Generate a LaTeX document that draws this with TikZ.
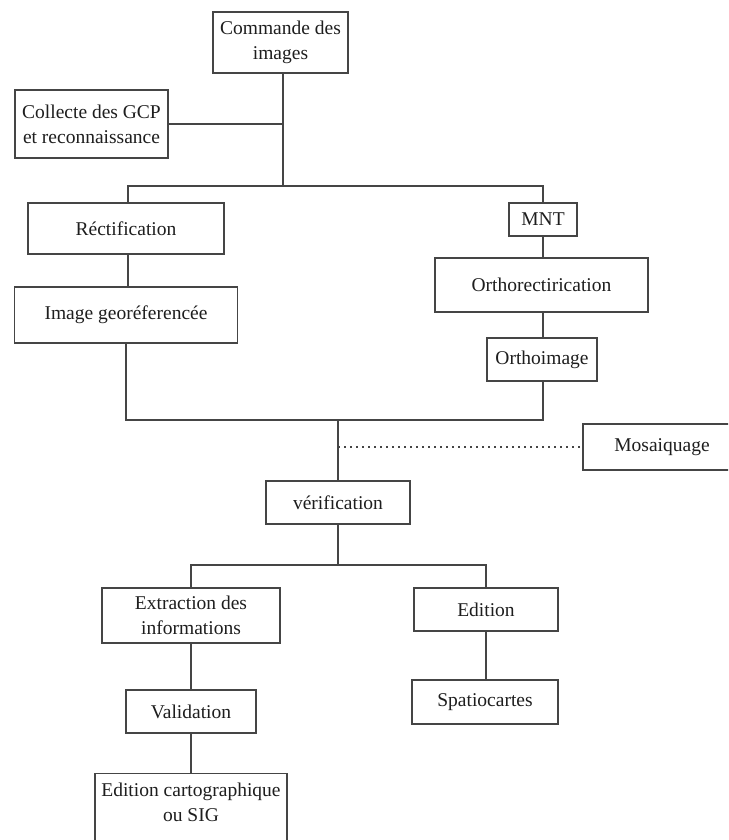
\documentclass[tikz,border=0pt]{standalone}
\usepackage{fontspec}
\setmainfont{Liberation Serif}
\begin{document}
\begin{tikzpicture}[x=1pt,y=-1pt,
  every node/.style={inner sep=0pt},
  box/.style={draw=boxgray, line width=1.4pt, fill=white, align=center,
    text=textgray, font=\fontsize{19.5}{25}\selectfont},
  link/.style={draw=boxgray, line width=1.4pt},
  dotlink/.style={draw=boxgray, line width=1.4pt, dash pattern=on 1.5pt off 4.5pt}]
\definecolor{boxgray}{HTML}{454545}
\definecolor{textgray}{HTML}{1E1E1E}
\useasboundingbox (0,0) rectangle (728,840);
\clip (0,0) rectangle (728,840);

% boxes
\node[box, minimum width=135pt, minimum height=61pt] (cmd) at (280.5,42.5) {Commande des\\images};
\node[box, minimum width=153pt, minimum height=68pt] (gcp) at (91.5,124) {Collecte des GCP\\et reconnaissance};
\node[box, minimum width=196pt, minimum height=51pt] (rect) at (126,228.5) {Réctification};
\node[box, minimum width=223pt, minimum height=56pt] (geo) at (126,315) {Image georéferencée};
\node[box, minimum width=68pt, minimum height=33pt] (mnt) at (543,219.5) {MNT};
\node[box, minimum width=213pt, minimum height=54pt] (ortho) at (541.5,285) {Orthorectirication};
\node[box, minimum width=110pt, minimum height=43pt] (oimg) at (542,359.5) {Orthoimage};
\node[box, minimum width=158pt, minimum height=46pt] (mos) at (662,447) {Mosaiquage};
\node[box, minimum width=144pt, minimum height=43pt] (verif) at (338,502.5) {vérification};
\node[box, minimum width=178pt, minimum height=55pt] (extr) at (191,615.5) {Extraction des\\informations};
\node[box, minimum width=130pt, minimum height=43pt] (valid) at (191,711.5) {Validation};
\node[box, minimum width=192pt, minimum height=87pt, anchor=north] (carto) at (191,773) {};
\node[box, draw=none, fill=none, anchor=north] (cartotext) at (191,782) {Edition cartographique\\ou SIG};
\node[box, minimum width=144pt, minimum height=43pt] (edit) at (486,609.5) {Edition};
\node[box, minimum width=146pt, minimum height=44pt] (spatio) at (485,702) {Spatiocartes};

% junction points
\coordinate (j1) at (283,186);
\coordinate (j2) at (338,420);
\coordinate (jm) at (338,447);
\coordinate (j3) at (338,565);

% connectors
\draw[link] (cmd.south -| j1) -- (j1);
\draw[link] (gcp.east) -- (gcp.east -| j1);
\draw[link] (rect.north -| 128,0) |- (j1) -| (mnt.north);
\draw[link] (rect.south -| 128,0) -- (geo.north -| 128,0);
\draw[link] (mnt.south) -- (ortho.north -| mnt.south);
\draw[link] (ortho.south -| mnt.south) -- (oimg.north -| mnt.south);
\draw[link] (geo.south) |- (j2) -| (oimg.south -| mnt.south);
\draw[link] (j2) -- (verif.north);
\draw[dotlink] (jm) -- (mos.west);
\draw[link] (verif.south) -- (j3);
\draw[link] (extr.north) |- (j3) -| (edit.north);
\draw[link] (extr.south) -- (valid.north);
\draw[link] (valid.south) -- (carto.north);
\draw[link] (edit.south) -- (edit.south |- spatio.north);
\end{tikzpicture}
\end{document}
